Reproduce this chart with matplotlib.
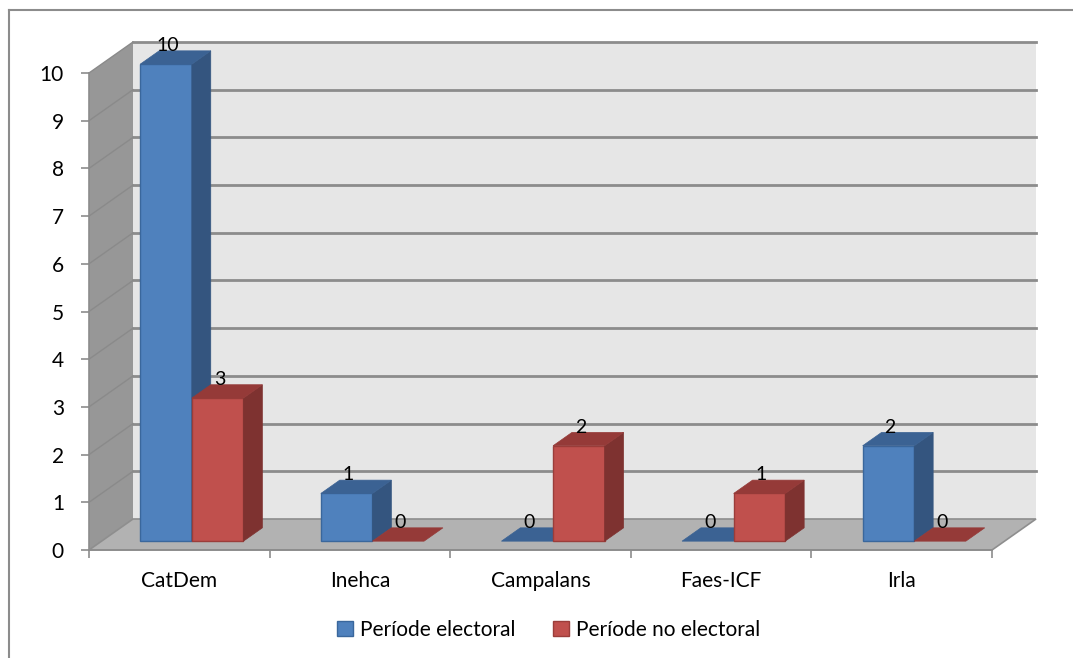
import matplotlib.pyplot as plt
from matplotlib.patches import Polygon, Patch
from matplotlib.lines import Line2D

categories = ['CatDem', 'Inehca', 'Campalans', 'Faes-ICF', 'Irla']
electoral = [10, 1, 0, 0, 2]
no_electoral = [3, 0, 2, 1, 0]
series_names = ['Període electoral', 'Període no electoral']
y_ticks = list(range(0, 11))

plt.rcParams['font.family'] = ['Lato', 'DejaVu Sans']

# colours: front, side, top, edge
blue = ('#4f81bd', '#34557f', '#3b6293', '#3a679c')
red = ('#c0504d', '#7e3230', '#953a38', '#9b3d3a')

# 3d look: depth offset of the whole floor in data units
dxF = 0.2436
dyF = 0.65
f0, f1 = 0.285, 0.715   # bar front/back depth
bw = 1 / 3.5            # gap width 150%

fig = plt.figure(figsize=(10.73, 6.58), dpi=100)
ax = fig.add_axes([89 / 1073, 108 / 658, 903 / 1073, 477 / 658])
ax.set_xlim(0, len(categories))
ax.set_ylim(0, 10)
ax.patch.set_visible(False)

n = len(categories)
ymax = y_ticks[-1]

# walls and floor
ax.add_patch(Polygon([(0, 0), (dxF, dyF), (dxF, ymax + dyF), (0, ymax)],
                     closed=True, fc='#979797', ec='none', zorder=0, clip_on=False))
ax.add_patch(Polygon([(dxF, dyF), (n + dxF, dyF), (n + dxF, ymax + dyF), (dxF, ymax + dyF)],
                     closed=True, fc='#e6e6e6', ec='none', zorder=0, clip_on=False))
ax.add_patch(Polygon([(0, 0), (n, 0), (n + dxF, dyF), (dxF, dyF)],
                     closed=True, fc='#b2b2b2', ec='#8e8e8e', lw=1.2, zorder=0.5, clip_on=False))

for v in y_ticks[1:]:
    ax.plot([dxF, n + dxF], [v + dyF, v + dyF], color='#8c8c8c', lw=2, zorder=1, clip_on=False)
    ax.plot([0, dxF], [v, v + dyF], color='#8a8a8a', lw=1, zorder=1, clip_on=False)


def draw_bar(x, val, cols):
    front, side, top, edge = cols
    xa = x + f0 * dxF
    ya = f0 * dyF
    ddx = (f1 - f0) * dxF
    ddy = (f1 - f0) * dyF
    if val > 0:
        ax.add_patch(Polygon([(xa, ya), (xa + bw, ya), (xa + bw, ya + val), (xa, ya + val)],
                             closed=True, fc=front, ec=edge, lw=1, zorder=2, clip_on=False))
        ax.add_patch(Polygon([(xa + bw, ya), (xa + bw + ddx, ya + ddy),
                              (xa + bw + ddx, ya + ddy + val), (xa + bw, ya + val)],
                             closed=True, fc=side, ec=side, lw=0.5, zorder=2, clip_on=False))
    ax.add_patch(Polygon([(xa, ya + val), (xa + bw, ya + val),
                          (xa + bw + ddx, ya + ddy + val), (xa + ddx, ya + ddy + val)],
                         closed=True, fc=top, ec=top, lw=0.5, zorder=2, clip_on=False))
    ax.text(xa + bw / 2 + 0.01, val + f1 * dyF - 0.07, str(val), ha='center', va='bottom',
            fontsize=14, color='black', zorder=3, clip_on=False)


for i in range(n):
    x0 = i + 0.75 * bw
    draw_bar(x0, electoral[i], blue)
    draw_bar(x0 + bw, no_electoral[i], red)

# axes
for s in ['top', 'right']:
    ax.spines[s].set_visible(False)
for s in ['left', 'bottom']:
    ax.spines[s].set_color('#8c8c8c')
    ax.spines[s].set_linewidth(1.2)
ax.set_yticks(y_ticks)
ax.set_yticklabels([str(t) for t in y_ticks])
ax.set_xticks(range(n + 1))
ax.set_xticklabels([])
ax.set_xticks([i + 0.5 for i in range(n)], minor=True)
ax.set_xticklabels(categories, minor=True)
ax.tick_params(axis='y', direction='out', length=6, color='#8c8c8c', width=1.2,
               labelsize=15, pad=12)
ax.tick_params(axis='x', which='major', direction='out', length=6, color='#8c8c8c', width=1.2)
ax.tick_params(axis='x', which='minor', length=0, labelsize=15, pad=15)

# legend
handles = [Patch(fc=blue[0], ec=blue[3]), Patch(fc=red[0], ec=red[3])]
fig.legend(handles, series_names, loc='center', bbox_to_anchor=(549 / 1073, 1 - 630 / 658),
           ncol=2, frameon=False, fontsize=15, handlelength=0.75, handleheight=0.75,
           handletextpad=0.35, columnspacing=1.8)

# chart border
fig.add_artist(Line2D([9 / 1073, 1], [1 - 10 / 658, 1 - 10 / 658], color='#8c8c8c', lw=1.5))
fig.add_artist(Line2D([9 / 1073, 9 / 1073], [0, 1 - 10 / 658], color='#8c8c8c', lw=1.5))

fig.savefig('out.png', dpi=100)
